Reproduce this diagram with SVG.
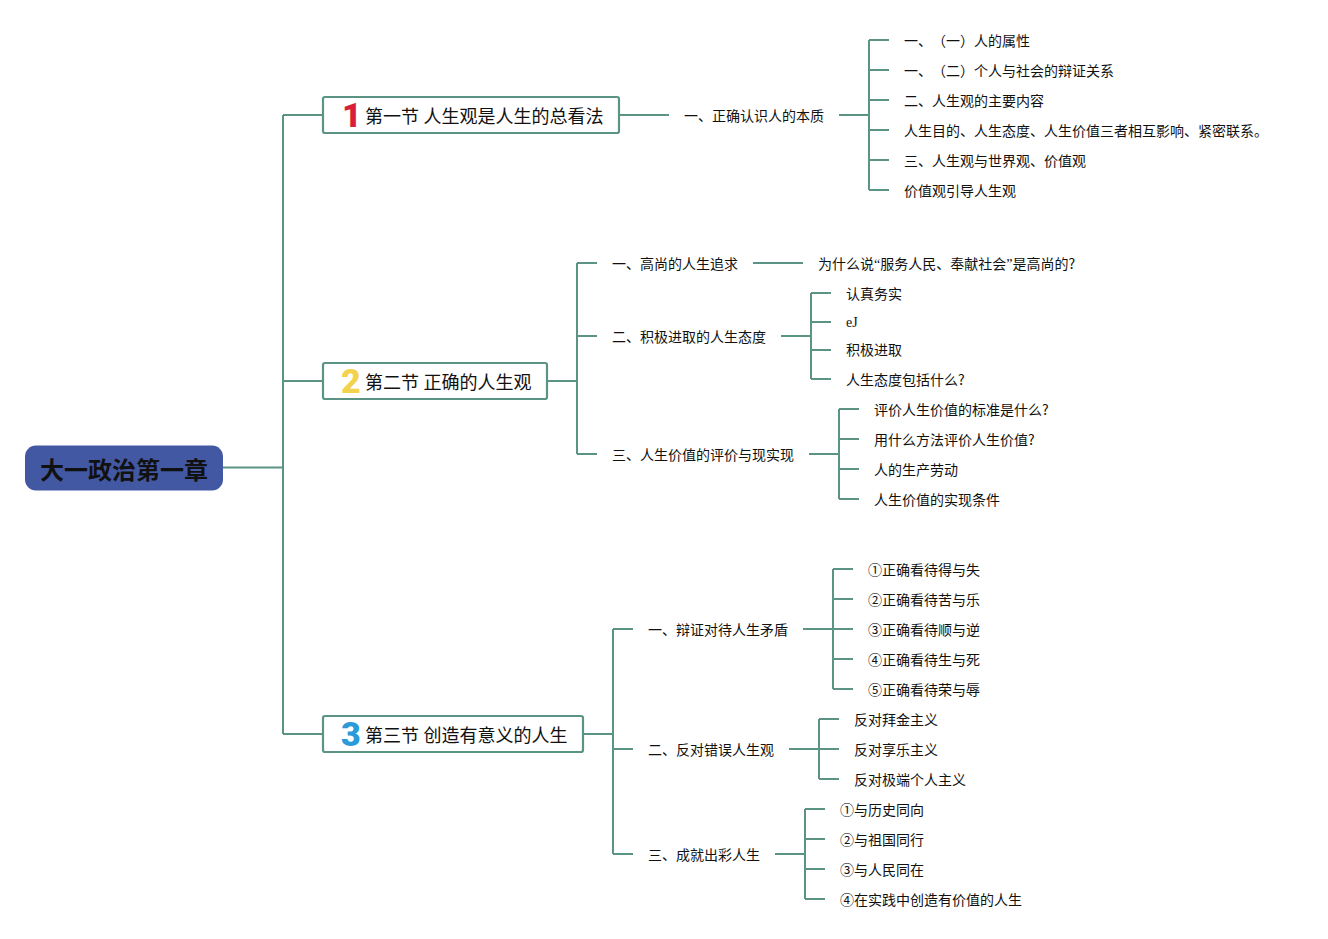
<svg xmlns="http://www.w3.org/2000/svg" width="1328" height="939" viewBox="0 0 1328 939">
<style>
text{font-family:"Liberation Serif","Noto Sans CJK SC",serif;fill:#111;text-spacing-trim:space-all}
.l{font-size:14px}
.s{font-size:18px}
.n{font-family:Roboto,"Liberation Sans",sans-serif;font-weight:900;font-size:34px}
.q{font-family:"Noto Sans CJK SC",sans-serif}
.box{fill:#fff;stroke:#5b9485;stroke-width:2.2}
#connectors path{fill:none;stroke:#5b9485;stroke-width:2}
</style>
<rect width="1328" height="939" fill="#fff"/>
<g id="connectors">
<path d="M223 467.500H283M283 115V734M283 115H323M283 381H323M283 734H323"/>
<path d="M619 115H669M839 115H869M869 40V190M869 40H889M869 70H889M869 100H889M869 130H889M869 160H889M869 190H889"/>
<path d="M547 381H577M577 263V454M577 263H597M577 336H597M577 454H597"/>
<path d="M753 263H803M781 336H811M811 293V379M811 293H831M811 322H831M811 350H831M811 379H831"/>
<path d="M809 454H839M839 409V499M839 409H859M839 439H859M839 469H859M839 499H859"/>
<path d="M583 734H613M613 629V854M613 629H633M613 749H633M613 854H633"/>
<path d="M803 629H833M833 569V689M833 569H853M833 599H853M833 629H853M833 659H853M833 689H853"/>
<path d="M789 749H819M819 719V779M819 719H839M819 749H839M819 779H839"/>
<path d="M775 854H805M805 809V899M805 809H825M805 839H825M805 869H825M805 899H825"/>
</g>
<g id="root"><rect x="25" y="445.500" width="198" height="45" rx="11" fill="#4358a3"/><text x="40" y="479" style="font-size:24px;font-weight:700;font-family:'Noto Sans CJK SC',sans-serif">大一政治第一章</text></g>
<g id="s1"><rect class="box" x="323" y="97" width="296" height="36" rx="2"/><text class="n" x="342" y="127" style="fill:#d81e3a">1</text><text class="s" x="365" y="122.500">第一节 人生观是人生的总看法</text></g>
<g id="s2"><rect class="box" x="323" y="363" width="224" height="36" rx="2"/><text class="n" x="341" y="393" style="fill:#f3d24e">2</text><text class="s" x="365" y="388.500">第二节 正确的人生观</text></g>
<g id="s3"><rect class="box" x="323" y="716" width="260" height="36" rx="2"/><text class="n" x="341" y="746" style="fill:#2a9ad8">3</text><text class="s" x="365" y="741.500">第三节 创造有意义的人生</text></g>
<g id="n1"><text class="l" x="684" y="121">一、正确认识人的本质</text></g>
<g id="n1a"><text class="l" x="904" y="46">一、（一）人的属性</text></g>
<g id="n1b"><text class="l" x="904" y="76">一、（二）个人与社会的辩证关系</text></g>
<g id="n1c"><text class="l" x="904" y="106">二、人生观的主要内容</text></g>
<g id="n1d"><text class="l" x="904" y="136">人生目的、人生态度、人生价值三者相互影响、紧密联系。</text></g>
<g id="n1e"><text class="l" x="904" y="166">三、人生观与世界观、价值观</text></g>
<g id="n1f"><text class="l" x="904" y="196">价值观引导人生观</text></g>
<g id="n2"><text class="l" x="612" y="269">一、高尚的人生追求</text></g>
<g id="n2a"><text class="l" x="818" y="269">为什么说“服务人民、奉献社会”是高尚的<tspan class="q">?</tspan></text></g>
<g id="n3"><text class="l" x="612" y="342">二、积极进取的人生态度</text></g>
<g id="n3a"><text class="l" x="846" y="299">认真务实</text></g>
<g id="n3b"><text class="l" x="846" y="327">eJ</text></g>
<g id="n3c"><text class="l" x="846" y="355">积极进取</text></g>
<g id="n3d"><text class="l" x="846" y="385">人生态度包括什么<tspan class="q">?</tspan></text></g>
<g id="n4"><text class="l" x="612" y="460">三、人生价值的评价与现实现</text></g>
<g id="n4a"><text class="l" x="874" y="415">评价人生价值的标准是什么<tspan class="q">?</tspan></text></g>
<g id="n4b"><text class="l" x="874" y="445">用什么方法评价人生价值<tspan class="q">?</tspan></text></g>
<g id="n4c"><text class="l" x="874" y="475">人的生产劳动</text></g>
<g id="n4d"><text class="l" x="874" y="505">人生价值的实现条件</text></g>
<g id="n5"><text class="l" x="648" y="635">一、辩证对待人生矛盾</text></g>
<g id="n5a"><text class="l" x="868" y="575">①正确看待得与失</text></g>
<g id="n5b"><text class="l" x="868" y="605">②正确看待苦与乐</text></g>
<g id="n5c"><text class="l" x="868" y="635">③正确看待顺与逆</text></g>
<g id="n5d"><text class="l" x="868" y="665">④正确看待生与死</text></g>
<g id="n5e"><text class="l" x="868" y="695">⑤正确看待荣与辱</text></g>
<g id="n6"><text class="l" x="648" y="755">二、反对错误人生观</text></g>
<g id="n6a"><text class="l" x="854" y="725">反对拜金主义</text></g>
<g id="n6b"><text class="l" x="854" y="755">反对享乐主义</text></g>
<g id="n6c"><text class="l" x="854" y="785">反对极端个人主义</text></g>
<g id="n7"><text class="l" x="648" y="860">三、成就出彩人生</text></g>
<g id="n7a"><text class="l" x="840" y="815">①与历史同向</text></g>
<g id="n7b"><text class="l" x="840" y="845">②与祖国同行</text></g>
<g id="n7c"><text class="l" x="840" y="875">③与人民同在</text></g>
<g id="n7d"><text class="l" x="840" y="905">④在实践中创造有价值的人生</text></g>
</svg>
